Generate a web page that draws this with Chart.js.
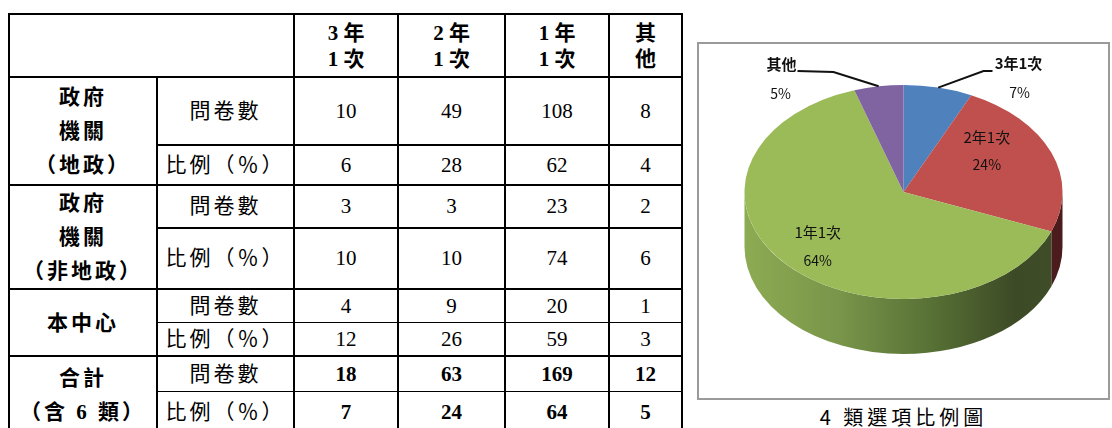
<!DOCTYPE html>
<html lang="zh-Hant">
<head>
<meta charset="utf-8">
<title>4 類選項比例</title>
<script src="https://cdn.jsdelivr.net/npm/chart.js@4.4.0/dist/chart.umd.min.js"></script>
<style>
    body {
        margin: 0;
        width: 1112px;
        height: 428px;
        overflow: hidden;
        position: relative;
        background: #fff;
        font-family: "Liberation Serif", "Noto Sans CJK TC", serif;
        color: #000;
    }
    #tabla {
        position: absolute;
        left: 8px;
        top: 13px;
        border-collapse: collapse;
        table-layout: fixed;
        width: 673px;
        font-size: 21px;
    }
    #tabla td {
        border: 2px solid #000;
        padding: 0;
        text-align: center;
        vertical-align: middle;
        line-height: 26px;
        white-space: nowrap;
    }
    #tabla td.grupo { line-height: 34px; font-weight: bold; letter-spacing: 3px; }
    #tabla td.cabecera { font-weight: bold; }
    #tabla td.rubro { letter-spacing: 3px; }
    #tabla tr.total td.valor { font-weight: bold; }
    #tabla td.fina-abajo { border-bottom-width: 1px; }
    #tabla td.fina-arriba { border-top-width: 1px; }
    #marco {
        position: absolute;
        left: 697px;
        top: 42px;
        width: 409px;
        height: 354px;
        border: 2px solid #9a9a9a;
    }
    #contenedor-grafico {
        position: absolute;
        left: 0;
        top: 0;
        width: 409px;
        height: 354px;
    }
    #titulo-grafico {
        position: absolute;
        left: 697px;
        top: 404px;
        width: 413px;
        text-align: center;
        font-family: "Noto Sans CJK TC", sans-serif;
        font-size: 20px;
        letter-spacing: 4px;
        line-height: 26px;
    }
</style>
</head>
<body>
<table id="tabla"></table>
<div id="marco">
    <div id="contenedor-grafico"><canvas id="chart"></canvas></div>
</div>
<div id="titulo-grafico">4 類選項比例圖</div>

<script>
// categorías de frecuencia
const categorias = ["3年1次", "2年1次", "1年1次", "其他"];
const encabezados = ["3 年<br>1 次", "2 年<br>1 次", "1 年<br>1 次", "其<br>他"];
const grupos = ["政府<br>機關<br>（地政）", "政府<br>機關<br>（非地政）", "本中心", "合計<br>（含 6 類）"];
const rubros = ["問卷數", "比例（％）"];

// valores por grupo
const cuestionariosLandAdmin = [10, 49, 108, 8];
const porcentajesLandAdmin = [6, 28, 62, 4];
const cuestionariosOtrosOrganismos = [3, 3, 23, 2];
const porcentajesOtrosOrganismos = [10, 10, 74, 6];
const cuestionariosCentro = [4, 9, 20, 1];
const porcentajesCentro = [12, 26, 59, 3];
const cuestionariosTotal = [18, 63, 169, 12];
const porcentajesTotal = [7, 24, 64, 5];

const filasPorGrupo = [
    [cuestionariosLandAdmin, porcentajesLandAdmin],
    [cuestionariosOtrosOrganismos, porcentajesOtrosOrganismos],
    [cuestionariosCentro, porcentajesCentro],
    [cuestionariosTotal, porcentajesTotal]
];

// alto de cada fila y anchos de columna (px)
const altoEncabezado = 63;
const altoFilas = [[68, 40], [41, 59], [33, 34], [35, 42]];
const anchoColumnas = [148, 137, 104, 107, 104, 73];
const gruposLineaFina = [2, 3];

function armarTabla() {
    const tabla = document.getElementById("tabla");
    let html = "<colgroup>" + anchoColumnas.map(a => `<col style="width:${a}px">`).join("") + "</colgroup>";
    html += `<tr style="height:${altoEncabezado}px"><td colspan="2"></td>`;
    html += encabezados.map(e => `<td class="cabecera">${e}</td>`).join("") + "</tr>";

    filasPorGrupo.forEach((filas, g) => {
        const fina = gruposLineaFina.includes(g);
        const esTotal = g === filasPorGrupo.length - 1;
        filas.forEach((valores, f) => {
            let claseBorde = "";
            if (fina) claseBorde = f === 0 ? "fina-abajo" : "fina-arriba";
            html += `<tr class="${esTotal ? "total" : ""}" style="height:${altoFilas[g][f]}px">`;
            if (f === 0) html += `<td class="grupo" rowspan="2">${grupos[g]}</td>`;
            html += `<td class="rubro ${claseBorde}">${rubros[f]}</td>`;
            html += valores.map(v => `<td class="valor ${claseBorde}">${v}</td>`).join("");
            html += "</tr>";
        });
    });
    tabla.innerHTML = html;
}

// pastel en perspectiva: relación vertical/horizontal y grosor del borde lateral
const inclinacion = 107 / 159;
const profundidad = 55;
const coloresSector = ["#4f81bd", "#c0504d", "#9bbb59", "#8064a2"];
const coloresLado = [
    [[0, "#2f4f78"], [1, "#26405f"]],
    [[0, "#6e2826"], [1, "#4a1c1b"]],
    [[0, "#8dab52"], [0.3, "#78954a"], [0.6, "#566f34"], [0.85, "#3d4a26"], [1, "#3f4d28"]],
    [[0, "#54416c"], [1, "#3f3152"]]
];

// posiciones de las etiquetas respecto al centro del pastel
const ubicacionEtiquetas = [
    { fuera: true, codo: [80, -121], fin: [89, -121], texto: [115, -129], pct: [116, -99] },
    { fuera: false, t: 0.33, f: 0.65 },
    { fuera: false, t: 0.5, f: 0.74 },
    { fuera: true, codo: [-70, -120], fin: [-106, -121], texto: [-122, -128], pct: [-123, -98] }
];

function puntoEnElipse(cx, cy, r, angulo) {
    return { x: cx + r * Math.cos(angulo), y: cy + r * inclinacion * Math.sin(angulo) };
}

const pastel3D = {
    id: "pastel3D",
    beforeDatasetsDraw(chart) {
        const ctx = chart.ctx;
        const arcos = chart.getDatasetMeta(0).data;

        // pared frontal de cada sector (solo la mitad que mira hacia abajo)
        arcos.forEach((arco, i) => {
            const { x, y, startAngle, endAngle, outerRadius } =
                arco.getProps(["x", "y", "startAngle", "endAngle", "outerRadius"], true);
            const desde = Math.max(startAngle, 0);
            const hasta = Math.min(endAngle, Math.PI);
            if (hasta <= desde) return;

            const degradado = ctx.createLinearGradient(x - outerRadius, 0, x + outerRadius, 0);
            coloresLado[i].forEach(([pos, color]) => degradado.addColorStop(pos, color));

            ctx.beginPath();
            ctx.ellipse(x, y, outerRadius, outerRadius * inclinacion, 0, desde, hasta);
            ctx.ellipse(x, y + profundidad, outerRadius, outerRadius * inclinacion, 0, hasta, desde, true);
            ctx.closePath();
            ctx.fillStyle = degradado;
            ctx.fill();
        });

        // la cara superior se aplasta verticalmente
        const { x, y } = arcos[0];
        ctx.save();
        ctx.translate(x, y);
        ctx.scale(1, inclinacion);
        ctx.translate(-x, -y);
    },
    afterDatasetsDraw(chart) {
        const ctx = chart.ctx;
        ctx.restore();

        const arcos = chart.getDatasetMeta(0).data;
        const total = chart.data.datasets[0].data.reduce((a, b) => a + b, 0);

        ctx.save();
        ctx.fillStyle = "#111";
        ctx.textAlign = "center";
        ctx.textBaseline = "middle";

        arcos.forEach((arco, i) => {
            const { x, y, startAngle, endAngle, outerRadius } =
                arco.getProps(["x", "y", "startAngle", "endAngle", "outerRadius"], true);
            const valor = chart.data.datasets[0].data[i];
            const textoPct = Math.round(valor / total * 100) + "%";
            const nombre = chart.data.labels[i];
            const u = ubicacionEtiquetas[i];

            if (u.fuera) {
                const borde = puntoEnElipse(x, y, outerRadius, (startAngle + endAngle) / 2);
                ctx.beginPath();
                ctx.moveTo(borde.x, borde.y);
                ctx.lineTo(x + u.codo[0], y + u.codo[1]);
                ctx.lineTo(x + u.fin[0], y + u.fin[1]);
                ctx.strokeStyle = "#111";
                ctx.lineWidth = 2;
                ctx.stroke();

                ctx.font = "bold 15px 'Noto Sans CJK TC'";
                ctx.fillText(nombre, x + u.texto[0], y + u.texto[1]);
                ctx.font = "14px 'Noto Sans CJK TC'";
                ctx.fillText(textoPct, x + u.pct[0], y + u.pct[1]);
            } else {
                const angulo = startAngle + (endAngle - startAngle) * u.t;
                const p = puntoEnElipse(x, y, outerRadius * u.f, angulo);
                ctx.font = "15px 'Noto Sans CJK TC'";
                ctx.fillText(nombre, p.x, p.y - 14);
                ctx.font = "14px 'Noto Sans CJK TC'";
                ctx.fillText(textoPct, p.x, p.y + 14);
            }
        });
        ctx.restore();
    }
};

function dibujarGrafico() {
    const contexto = document.getElementById("chart").getContext("2d");
    new Chart(contexto, {
        type: "pie",
        data: {
            labels: categorias,
            datasets: [{
                data: porcentajesTotal,
                backgroundColor: coloresSector,
                borderWidth: 0,
                clip: false
            }]
        },
        options: {
            responsive: true,
            maintainAspectRatio: false,
            animation: false,
            events: [],
            radius: 159,
            layout: { padding: { top: 0, bottom: 58, left: 0, right: 0 } },
            plugins: {
                legend: { display: false },
                tooltip: { enabled: false }
            }
        },
        plugins: [pastel3D]
    });
}

armarTabla();
dibujarGrafico();
</script>
</body>
</html>
